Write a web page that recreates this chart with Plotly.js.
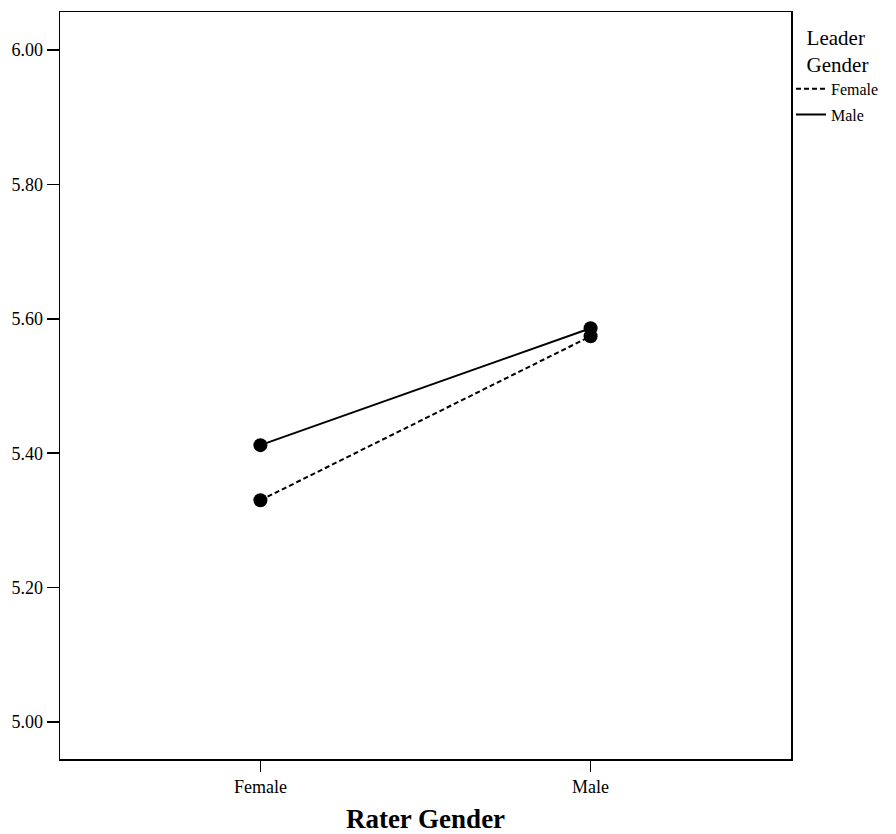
<!DOCTYPE html>
<html>
<head>
<meta charset="utf-8">
<script src="https://cdn.plot.ly/plotly-3.0.1.min.js"></script>
<style>html,body{margin:0;padding:0;background:#fff;}#chart{width:896px;height:834px;}</style>
</head>
<body>
<div id="chart"></div>
<script>
const raterGender = ["Female", "Male"];
const femaleLeader = [5.330, 5.574];
const maleLeader = [5.412, 5.586];
const yTickVals = [5.00, 5.20, 5.40, 5.60, 5.80, 6.00];
const seriesNames = ["Female", "Male"];

const serif = "Liberation Serif, Times New Roman, serif";

const traces = [
  {
    x: raterGender, y: femaleLeader, name: seriesNames[0], legendgroup: "f",
    type: "scatter", mode: "lines",
    line: {color: "#000", width: 2, dash: "5px,3px"}
  },
  {
    x: raterGender, y: maleLeader, name: seriesNames[1], legendgroup: "m",
    type: "scatter", mode: "lines",
    line: {color: "#000", width: 2}
  },
  {
    x: raterGender, y: femaleLeader, name: seriesNames[0], legendgroup: "f", showlegend: false,
    type: "scatter", mode: "markers",
    marker: {color: "#000", size: 14}
  },
  {
    x: raterGender, y: maleLeader, name: seriesNames[1], legendgroup: "m", showlegend: false,
    type: "scatter", mode: "markers",
    marker: {color: "#000", size: 14}
  }
];

const layout = {
  width: 896, height: 834,
  margin: {l: 60, r: 103, t: 12, b: 75},
  paper_bgcolor: "#fff", plot_bgcolor: "#fff",
  font: {family: serif, color: "#000"},
  showlegend: true,
  legend: {
    x: 1.0, xanchor: "left", y: 0.993, yanchor: "top",
    font: {family: serif, size: 16, color: "#000"},
    title: {text: "Leader<br>Gender", side: "top center", font: {family: serif, size: 21, color: "#000"}},
    bgcolor: "rgba(0,0,0,0)", borderwidth: 0,
    tracegroupgap: 2,
    itemclick: false
  },
  xaxis: {
    type: "category",
    range: [-0.607, 1.607],
    showgrid: false, zeroline: false,
    showline: true, linecolor: "#000", linewidth: 1.5, mirror: true,
    ticks: "outside", ticklen: 11, tickwidth: 1.5, tickcolor: "#000",
    tickfont: {family: serif, size: 18, color: "#000"},
    title: {text: "Rater Gender", font: {family: serif, size: 27, color: "#000", weight: "bold"}, standoff: 18}
  },
  yaxis: {
    range: [4.945, 6.0565],
    tickvals: yTickVals, tickformat: ".2f",
    showgrid: false, zeroline: false,
    showline: true, linecolor: "#000", linewidth: 1.5, mirror: true,
    ticks: "outside", ticklen: 12, tickwidth: 1.5, tickcolor: "#000",
    tickfont: {family: serif, size: 18, color: "#000"}
  }
};

Plotly.newPlot("chart", traces, layout, {displayModeBar: false, staticPlot: true});
</script>
</body>
</html>
